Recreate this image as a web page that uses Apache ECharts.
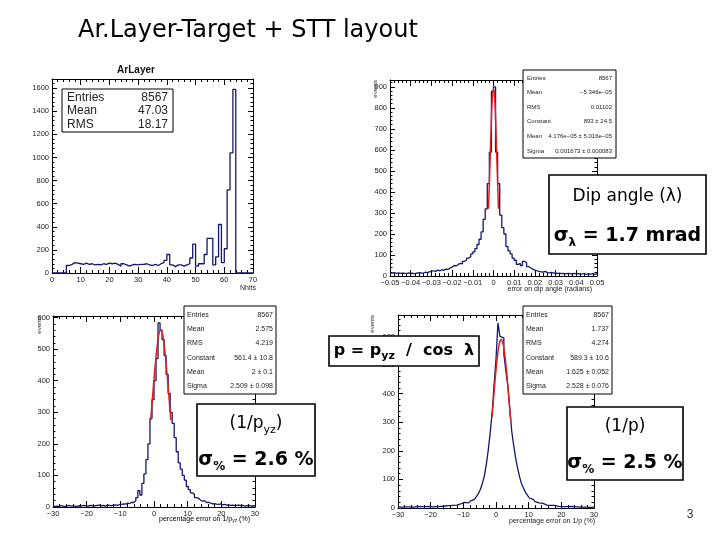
<!DOCTYPE html>
<html>
<head>
<meta charset="utf-8">
<script src="https://cdn.jsdelivr.net/npm/echarts@6/dist/echarts.min.js"></script>
<style>
html, body { margin: 0; padding: 0; background: #fff; }
#chart { width: 720px; height: 540px; }
</style>
</head>
<body>
<div id="chart"></div>
<script>
// histogram contents (bin counts)
const arCounts = [0, 0, 0, 0, 0, 65, 75, 90, 85, 80, 75, 85, 75, 80, 70, 75, 70, 80, 75, 85,
  80, 85, 75, 60, 80, 70, 60, 70, 75, 70, 75, 75, 80, 70, 65, 75, 65, 80, 90, 110,
  160, 70, 55, 70, 70, 60, 70, 80, 130, 250, 60, 80, 80, 160, 300, 300, 70, 140, 420, 90,
  210, 720, 1040, 1590, 0, 0, 0, 0, 0, 0];
const dipCounts = [14, 16, 13, 15, 12, 14, 13, 11, 15, 12,
  13, 11, 14, 16, 15, 13, 18, 16, 20, 22,
  25, 22, 28, 24, 30, 27, 33, 31, 38, 42,
  50, 48, 55, 60, 58, 70, 75, 85, 92, 105,
  115, 130, 150, 175, 210, 270, 320, 440, 590, 880,
  900, 590, 440, 290, 230, 200, 140, 120, 105, 85,
  75, 55, 60, 50, 70, 62, 45, 38, 33, 28,
  25, 22, 20, 18, 22, 16, 15, 17, 14, 13,
  12, 14, 11, 13, 10, 12, 11, 9, 12, 10,
  11, 9, 10, 12, 8, 10, 9, 11, 8, 10];
const pyzCounts = [2, 3, 2, 4, 3, 2, 3, 5, 3, 4, 2, 3, 4, 3, 5, 4, 3, 4, 5, 3,
  4, 5, 6, 4, 5, 3, 6, 5, 4, 6, 7, 5, 8, 8, 10, 9, 12, 11, 15, 14,
  20, 30, 52, 38, 75, 105, 150, 200, 280, 340, 400, 470, 583, 560, 530, 480, 420, 360, 300, 265,
  220, 175, 140, 120, 100, 85, 65, 55, 45, 40, 30, 28, 22, 18, 20, 14, 15, 12, 10, 11,
  9, 8, 10, 7, 8, 6, 7, 5, 6, 4, 5, 6, 4, 5, 3, 4, 5, 3, 4, 3];
const pCounts = [4, 3, 5, 4, 3, 4, 5, 3, 4, 6, 4, 5, 3, 5, 4, 6, 5, 4, 6, 5,
  7, 6, 5, 7, 6, 8, 7, 9, 8, 10, 12, 14, 18, 20, 15, 18, 22, 25, 30, 35,
  40, 50, 65, 85, 110, 150, 200, 260, 330, 430, 520, 648, 600, 595, 540, 480, 430, 350, 270, 220,
  175, 140, 110, 85, 70, 55, 45, 35, 30, 25, 22, 18, 15, 16, 12, 10, 11, 9, 8, 9,
  7, 6, 8, 5, 6, 5, 4, 6, 4, 5, 3, 4, 5, 3, 4, 3, 4, 2, 3, 3];

// gaussian fit curves
const dipFitX = [-0.0024, -0.0018, -0.0012, -0.0006, 0, 0.0006, 0.0012, 0.0018, 0.0024];
const dipFitY = [320, 500, 690, 840, 893, 840, 690, 500, 320];
const pyzFitX = [-1, -0.5, 0, 0.5, 1, 1.5, 2, 2.5, 3, 3.5, 4, 4.5, 5];
const pyzFitY = [275, 340, 405, 465, 515, 550, 561, 550, 515, 465, 405, 340, 275];
const pFitX = [-1.2, -0.5, 0, 0.5, 1, 1.6, 2, 2.5, 3, 3.5, 4, 4.5];
const pFitY = [319, 417, 482, 536, 573, 589, 582, 553, 505, 444, 376, 305];

// stat boxes
const arStats = [["Entries", "8567"], ["Mean", "47.03"], ["RMS", "18.17"]];
const dipStats = [["Entries", "8567"], ["Mean", "\u22125.346e\u221205"], ["RMS", "0.01102"],
  ["Constant", "893 \u00b1 24.5"], ["Mean", "4.176e\u221205 \u00b1 5.016e\u221205"], ["Sigma", "0.001673 \u00b1 0.000083"]];
const pyzStats = [["Entries", "8567"], ["Mean", "2.575"], ["RMS", "4.219"],
  ["Constant", "561.4 \u00b1 10.8"], ["Mean", "2 \u00b1 0.1"], ["Sigma", "2.509 \u00b1 0.098"]];
const pStats = [["Entries", "8567"], ["Mean", "1.737"], ["RMS", "4.274"],
  ["Constant", "589.3 \u00b1 10.6"], ["Mean", "1.625 \u00b1 0.052"], ["Sigma", "2.528 \u00b1 0.076"]];

const font = "'Liberation Sans', Arial, sans-serif";
const cfont = "'Comic Sans MS', 'DejaVu Sans', sans-serif";
const blue = "#16166e";
const red = "#e0201c";

const chart = echarts.init(document.getElementById("chart"));

const steps = (lo, w, counts) => {
  const d = counts.map((v, i) => [lo + i * w, v]);
  d.push([lo + counts.length * w, counts[counts.length - 1]]);
  return d;
};
const pairs = (xs, ys) => xs.map((x, i) => [x, ys[i]]);

const minus = (s) => String(s).replace("-", "\u2212");

const axisPair = (gi, dim, min, max, interval, fmt, tickLen) => {
  const base = {
    type: "value", gridIndex: gi, min: min, max: max, interval: interval,
    axisLine: { show: true, onZero: false, lineStyle: { color: "#000", width: 1 } },
    axisTick: { show: true, inside: true, length: tickLen, lineStyle: { color: "#000", width: 1 } },
    minorTick: { show: true, splitNumber: 5, length: tickLen / 2, lineStyle: { color: "#000", width: 1 } },
    splitLine: { show: false },
    minorSplitLine: { show: false },
  };
  const lab = {
    show: true, margin: 3, fontSize: 7.5, color: "#222", fontFamily: font,
    formatter: fmt, showMinLabel: true, showMaxLabel: dim === "x",
  };
  return [
    Object.assign({}, base, { position: dim === "x" ? "bottom" : "left", axisLabel: lab }),
    Object.assign({}, base, { position: dim === "x" ? "top" : "right", axisLabel: { show: false } }),
  ];
};

const intFmt = (step) => (v) => (Math.abs(v / step - Math.round(v / step)) < 1e-6 ? minus(Math.round(v)) : "");
const dipFmt = (v) => (Math.abs(v) < 1e-9 ? "0" : (v < 0 ? "\u2212" : "") + Math.abs(v).toFixed(2));

const grids = [
  { left: 52, top: 79, width: 201, height: 194 },
  { left: 390, top: 80, width: 207, height: 196 },
  { left: 53, top: 316, width: 202, height: 191 },
  { left: 398, top: 315, width: 196, height: 193 },
];

const xAxis = [].concat(
  axisPair(0, "x", 0, 70, 10, intFmt(10), 6),
  axisPair(1, "x", -0.05, 0.05, 0.01, dipFmt, 6),
  axisPair(2, "x", -30, 30, 10, intFmt(10), 6),
  axisPair(3, "x", -30, 30, 10, intFmt(10), 6)
);
const yAxis = [].concat(
  axisPair(0, "y", 0, 1680, 200, intFmt(200), 5),
  axisPair(1, "y", 0, 933, 100, intFmt(100), 5),
  axisPair(2, "y", 0, 605, 100, intFmt(100), 5),
  axisPair(3, "y", 0, 675, 100, intFmt(100), 5)
);

const hist = (g, data) => ({
  type: "line", xAxisIndex: 2 * g, yAxisIndex: 2 * g, data: data, step: "end",
  symbol: "none", lineStyle: { color: blue, width: 1.3 }, z: 2,
});
const fit = (g, data) => ({
  type: "line", xAxisIndex: 2 * g, yAxisIndex: 2 * g, data: data, smooth: true,
  symbol: "none", lineStyle: { color: red, width: 1.5 }, z: 3,
});

// stat box drawn as separate top-level elements so each carries its own z
const statBox = (x, y, w, h, rows, fs, top, step, pad) => {
  const els = [{ type: "rect", z: 100, shape: { x: x, y: y, width: w, height: h },
    style: { fill: "#fff", stroke: "#000", lineWidth: 1 } }];
  rows.forEach((r, i) => {
    els.push({ type: "text", z: 101, style: { text: r[0], x: x + pad, y: y + top + i * step,
      font: fs + "px " + font, fill: "#222", align: "left", verticalAlign: "middle" } });
    els.push({ type: "text", z: 101, style: { text: r[1], x: x + w - pad, y: y + top + i * step,
      font: fs + "px " + font, fill: "#222", align: "right", verticalAlign: "middle" } });
  });
  return els;
};

const boxRect = (x, y, w, h) => ({ type: "rect", z: 100, shape: { x: x, y: y, width: w, height: h },
  style: { fill: "#fff", stroke: "#000", lineWidth: 1.6 } });

const rich = {
  n: { fontSize: 17, fontFamily: cfont, color: "#000", lineHeight: 24 },
  ns: { fontSize: 11, fontFamily: cfont, color: "#000", lineHeight: 11, verticalAlign: "bottom" },
  b: { fontSize: 19, fontFamily: cfont, fontWeight: "bold", color: "#000", lineHeight: 26 },
  bs: { fontSize: 12, fontFamily: cfont, fontWeight: "bold", color: "#000", lineHeight: 12, verticalAlign: "bottom" },
  t: { fontSize: 16, fontFamily: cfont, fontWeight: "bold", color: "#000", lineHeight: 22 },
  ts: { fontSize: 11, fontFamily: cfont, fontWeight: "bold", color: "#000", lineHeight: 11, verticalAlign: "bottom" },
  a: { fontSize: 7, fontFamily: font, color: "#222", lineHeight: 9 },
  as: { fontSize: 5, fontFamily: font, color: "#222", lineHeight: 5, verticalAlign: "bottom" },
};

const label = (text, x, y, extra) => ({ type: "text", z: 101,
  style: Object.assign({ text: text, x: x, y: y, rich: rich, align: "center", verticalAlign: "middle" }, extra || {}) });

const small = (text, x, y, align) => ({ type: "text", z: 101,
  style: { text: text, x: x, y: y, font: "7px " + font, fill: "#222", align: align, verticalAlign: "middle" } });

const events = (x, y) => ({ type: "text", z: 101, x: x, y: y, rotation: Math.PI / 2,
  style: { text: "events", x: 0, y: 0, font: "6px " + font, fill: "#222", align: "right", verticalAlign: "middle" } });

chart.setOption({
  animation: false,
  grid: grids,
  xAxis: xAxis,
  yAxis: yAxis,
  series: [
    hist(0, steps(0, 1, arCounts)),
    hist(1, steps(-0.05, 0.001, dipCounts)),
    hist(2, steps(-30, 0.6, pyzCounts)),
    hist(3, steps(-30, 0.6, pCounts)),
    fit(1, pairs(dipFitX, dipFitY)),
    fit(2, pairs(pyzFitX, pyzFitY)),
    fit(3, pairs(pFitX, pFitY)),
  ],
  graphic: [].concat(
    [
      { type: "text", z: 101, style: { text: "Ar.Layer-Target + STT layout", x: 78, y: 31,
        font: "24px " + cfont, fill: "#000", align: "left", verticalAlign: "middle" } },
      { type: "text", z: 101, style: { text: "ArLayer", x: 136, y: 70,
        font: "bold 10px " + font, fill: "#111", align: "center", verticalAlign: "middle" } },
    ],
    statBox(62, 89, 111, 43, arStats, 12, 8.5, 13.5, 5),
    statBox(523, 70, 93, 88, dipStats, 6, 8, 14.6, 4),
    statBox(184, 306, 92, 88, pyzStats, 7, 9, 14.2, 3),
    statBox(523, 306, 89, 88, pStats, 7, 9, 14.2, 3),
    [
      boxRect(549, 175, 157, 79),
      label("{n|Dip angle (\u03bb)}", 627.5, 197),
      label("{b|\u03c3}{bs|\u03bb}{b| = 1.7 mrad}", 627.5, 236),

      boxRect(197, 404, 118, 72),
      label("{n|(1/p}{ns|yz}{n|)}", 256, 424),
      label("{b|\u03c3}{bs|%}{b| = 2.6 %}", 256, 460),

      boxRect(567, 407, 116, 73),
      label("{n|(1/p)}", 625, 427),
      label("{b|\u03c3}{bs|%}{b| = 2.5 %}", 625, 463),

      boxRect(329, 336, 150, 30),
      label("{t|p = p}{ts|yz}{t|  /  cos  \u03bb}", 404, 351),

      small("Nhits", 256, 288, "right"),
      small("error on dip angle (radians)", 592, 289, "right"),
      label("{a|percentage error on 1/p}{as|yz}{a| (%)}", 250, 519, { align: "right" }),
      small("percentage error on 1/p (%)", 595, 521, "right"),

      events(375, 80),
      events(39, 316),
      events(372, 315),

      { type: "text", z: 101, style: { text: "3", x: 690, y: 515, font: "12px " + font,
        fill: "#333", align: "center", verticalAlign: "middle" } },
    ]
  ),
});
</script>
</body>
</html>
